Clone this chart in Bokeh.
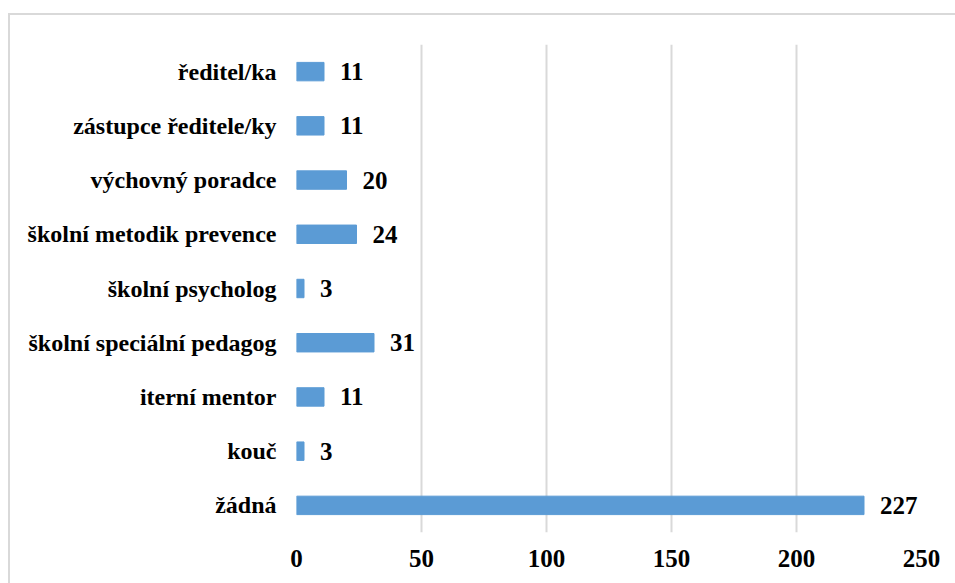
from bokeh.plotting import figure
from bokeh.models import ColumnDataSource, FactorRange, Range1d, FixedTicker, LabelSet, InlineStyleSheet
from bokeh.embed import file_html
from bokeh.resources import INLINE

categories = ["žádná", "kouč", "iterní mentor", "školní speciální pedagog",
              "školní psycholog", "školní metodik prevence", "výchovný poradce",
              "zástupce ředitele/ky", "ředitel/ka"]
values = [227, 3, 11, 31, 3, 24, 20, 11, 11]
x_ticks = [0, 50, 100, 150, 200, 250]

FONT = "Liberation Serif"
FS = "24px"
BAR = "#5B9BD5"
GRID = "#D9D9D9"

src = ColumnDataSource(dict(cat=categories, val=values, lab=[str(v) for v in values]))

p = figure(width=955, height=583, output_backend="svg", toolbar_location=None,
           y_range=FactorRange(factors=categories, range_padding=0),
           x_range=Range1d(0, 250),
           min_border_left=296, min_border_right=34, min_border_top=44, min_border_bottom=51)

p.hbar(y="cat", right="val", height=0.34, source=src, fill_color=BAR,
       line_color=BAR)

labels = LabelSet(x="val", y="cat", text="lab", source=src, x_offset=16,
                  text_baseline="middle", text_align="left", text_font=FONT,
                  text_font_style="bold", text_font_size="25px", text_color="#000000")
p.add_layout(labels)

p.outline_line_color = None
p.xgrid.ticker = FixedTicker(ticks=x_ticks)
p.xgrid.grid_line_color = GRID
p.xgrid.grid_line_width = 2
p.ygrid.grid_line_color = None

p.xaxis.ticker = FixedTicker(ticks=x_ticks)
p.xaxis.axis_line_color = None
p.xaxis.major_tick_line_color = None
p.xaxis.minor_tick_line_color = None
p.xaxis.major_label_text_font = FONT
p.xaxis.major_label_text_font_style = "bold"
p.xaxis.major_label_text_font_size = "25px"
p.xaxis.major_label_text_color = "#000000"
p.xaxis.major_label_standoff = 11

p.yaxis.axis_line_color = None
p.yaxis.major_tick_line_color = None
p.yaxis.minor_tick_line_color = None
p.yaxis.major_label_text_font = FONT
p.yaxis.major_label_text_font_style = "bold"
p.yaxis.major_label_text_font_size = FS
p.yaxis.major_label_text_color = "#000000"
p.yaxis.major_label_standoff = 14

p.stylesheets = [InlineStyleSheet(css="""
:host { position: relative; }
:host::after { content: ""; position: absolute; left: 8px; top: 13px;
  right: -20px; bottom: -20px; border: 2px solid #D9D9D9; pointer-events: none; }
""")]

open("out.html", "w").write(file_html(p, INLINE))
